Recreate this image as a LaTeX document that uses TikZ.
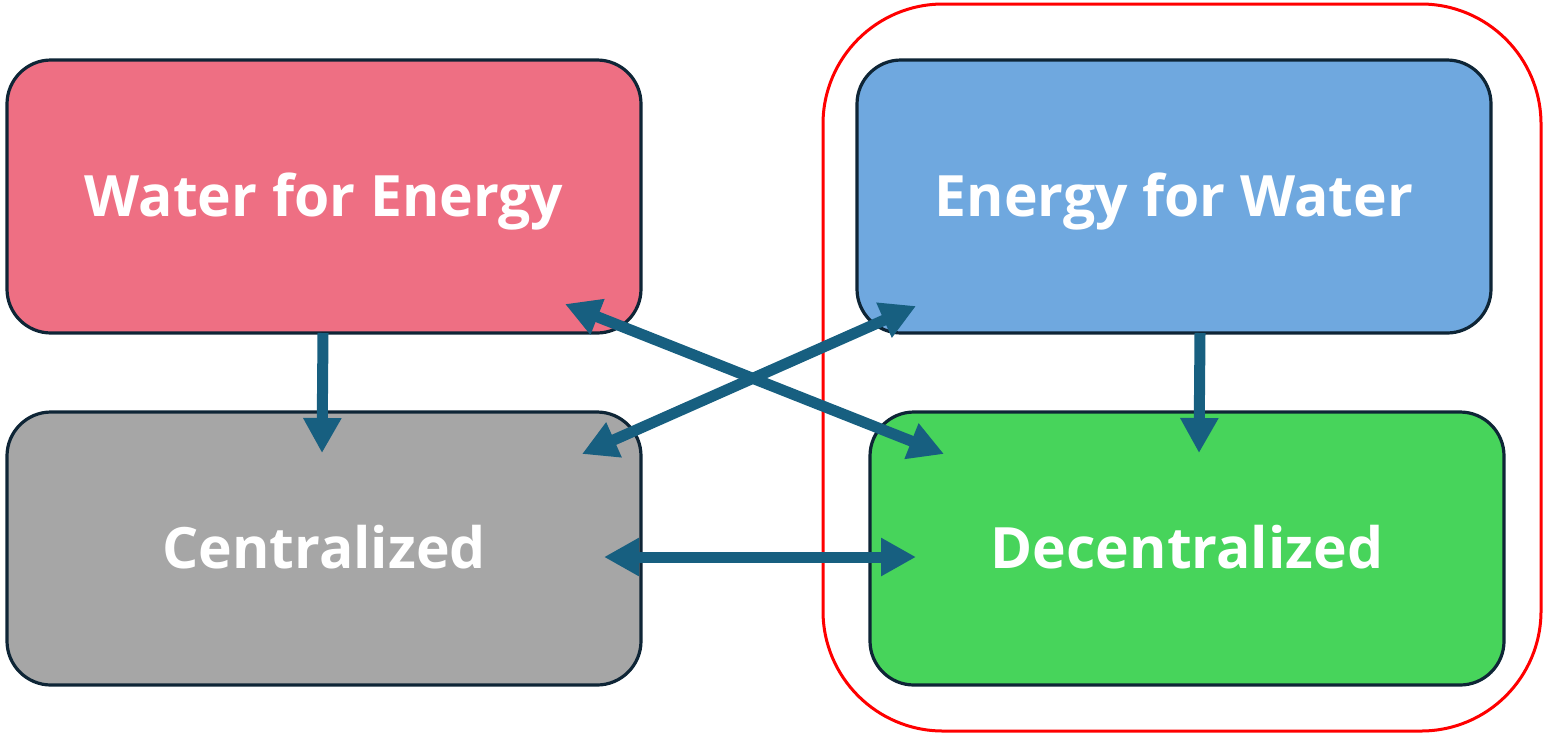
\documentclass[tikz,border=0pt]{standalone}
\usepackage{fontspec}
\setmainfont{Open Sans}
\usetikzlibrary{arrows.meta}
\definecolor{pinkbox}{HTML}{EE6F83}
\definecolor{bluebox}{HTML}{6FA8DF}
\definecolor{graybox}{HTML}{A6A6A6}
\definecolor{greenbox}{HTML}{47D45B}
\definecolor{edgecol}{HTML}{0E2536}
\definecolor{arrowcol}{HTML}{175F80}
\definecolor{redframe}{HTML}{FF0000}
\begin{document}
\begin{tikzpicture}[x=0.5pt,y=-0.5pt,
  box/.style={draw=edgecol, line width=1.6pt, rounded corners=22pt, minimum width=317pt, minimum height=136.5pt, inner sep=0pt, text=white, text height=20.4pt, text depth=0pt, font=\bfseries\fontsize{28.5}{34}\selectfont},
  conn/.style={draw=arrowcol, line width=5.5pt, -{Triangle[width=18pt,length=17.5pt]}},
  conn2/.style={draw=arrowcol, line width=5.5pt, {Triangle[width=18pt,length=17.5pt]}-{Triangle[width=18pt,length=17.5pt]}}
]
\useasboundingbox (0,0) rectangle (1546,735);
\node[draw=redframe, line width=1.5pt, rounded corners=60pt, minimum width=359pt, minimum height=363.5pt] (frame) at (1182,367.5) {};
\node[box, fill=pinkbox] (wfe) at (324,196.5) {Water for Energy};
\node[box, fill=bluebox] (efw) at (1174,196.5) {Energy for Water};
\node[box, fill=graybox] (cen) at (324,548.5) {Centralized};
\node[box, fill=greenbox] (dec) at (1187,548.5) {Decentralized};
% connector end points
\coordinate (a1) at (323,333);
\coordinate (a2) at (322,453);
\coordinate (b1) at (1200,333);
\coordinate (b2) at (1199,453);
\coordinate (c1) at (565,304);
\coordinate (c2) at (944,454);
\coordinate (d1) at (582,454);
\coordinate (d2) at (916,306);
\coordinate (e1) at (604,557);
\coordinate (e2) at (916,557);
\draw[conn] (a1) -- (a2);
\draw[conn] (b1) -- (b2);
\draw[conn2] (c1) -- (c2);
\draw[conn2] (d1) -- (d2);
\draw[conn2] (e1) -- (e2);
\end{tikzpicture}
\end{document}
